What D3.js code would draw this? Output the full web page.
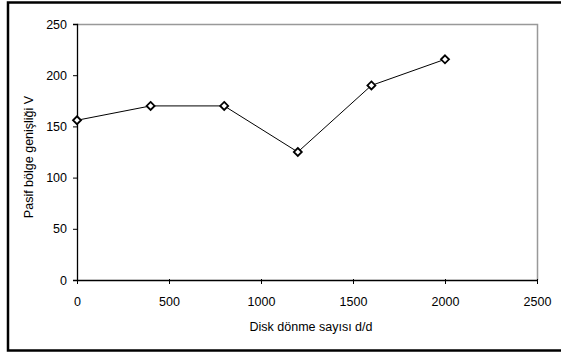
<!DOCTYPE html>
<html>
<head>
<meta charset="utf-8">
<script src="https://cdn.jsdelivr.net/npm/d3@7"></script>
<style>
  html, body { margin: 0; padding: 0; background: #fff; }
  svg { display: block; }
  text { font-family: "Liberation Sans", Arial, sans-serif; font-size: 12.5px; fill: #000; }
</style>
</head>
<body>
<svg id="chart" width="561" height="353"></svg>
<script>
// Disk rotation speed (d/d) vs. passive region width (V)
const speeds = [0, 400, 800, 1200, 1600, 2000];
const widths = [156, 170, 170, 125, 190, 215.5];
const xTicks = [0, 500, 1000, 1500, 2000, 2500];
const yTicks = [0, 50, 100, 150, 200, 250];
const xTitle = "Disk dönme sayısı d/d";
const yTitle = "Pasif bölge genişliği V";

const svg = d3.select("#chart");
const plotL = 77, plotR = 537, plotT = 24, plotB = 280;

// outer chart frame (right edge runs past the window)
svg.append("rect")
  .attr("x", 8).attr("y", 2.5).attr("width", 600).attr("height", 348)
  .attr("fill", "none").attr("stroke", "#000").attr("stroke-width", 2.5);

const x = d3.scaleLinear().domain([0, 2500]).range([plotL, plotR]);
const y = d3.scaleLinear().domain([0, 250]).range([plotB, plotT]);

// plot area: grey top and right edges
svg.append("path")
  .attr("d", `M${plotL},${plotT + 0.5}H${plotR + 0.5}V${plotB}`)
  .attr("fill", "none").attr("stroke", "#999").attr("stroke-width", 1.5);

// axes
const xAxis = svg.append("g").attr("transform", `translate(0,${plotB})`)
  .call(d3.axisBottom(x).tickValues(xTicks).tickSize(0).tickPadding(17).tickFormat(d3.format("d")));
xAxis.selectAll(".tick line").remove();
xAxis.selectAll(".tick").append("line").attr("y1", -1).attr("y2", 4).attr("stroke", "#000");
xAxis.select(".domain").attr("stroke", "#000").attr("stroke-width", 1.3);
xAxis.selectAll("text").style("font-size", "12.5px");

const yAxis = svg.append("g").attr("transform", `translate(${plotL},0)`)
  .call(d3.axisLeft(y).tickValues(yTicks).tickSize(4).tickPadding(6).tickFormat(d3.format("d")));
yAxis.select(".domain").attr("stroke", "#000").attr("stroke-width", 1.3);
yAxis.selectAll(".tick line").attr("stroke", "#000");
yAxis.selectAll("text").style("font-size", "12.5px");

// axis titles
svg.append("text")
  .attr("x", 311).attr("y", 331)
  .attr("text-anchor", "middle").text(xTitle);
svg.append("text")
  .attr("transform", `translate(33,157) rotate(-90)`)
  .attr("text-anchor", "middle").text(yTitle);

// series line
const pts = speeds.map((s, i) => [s, widths[i]]);
svg.append("path")
  .datum(pts)
  .attr("d", d3.line().x(d => x(d[0])).y(d => y(d[1])))
  .attr("fill", "none").attr("stroke", "#000").attr("stroke-width", 1);

// diamond markers
svg.selectAll(".marker").data(pts).join("path")
  .attr("class", "marker")
  .attr("transform", d => `translate(${x(d[0])},${y(d[1])})`)
  .attr("d", "M0,-4L4,0L0,4L-4,0Z")
  .attr("fill", "#fff").attr("stroke", "#000").attr("stroke-width", 1.8);
</script>
</body>
</html>
